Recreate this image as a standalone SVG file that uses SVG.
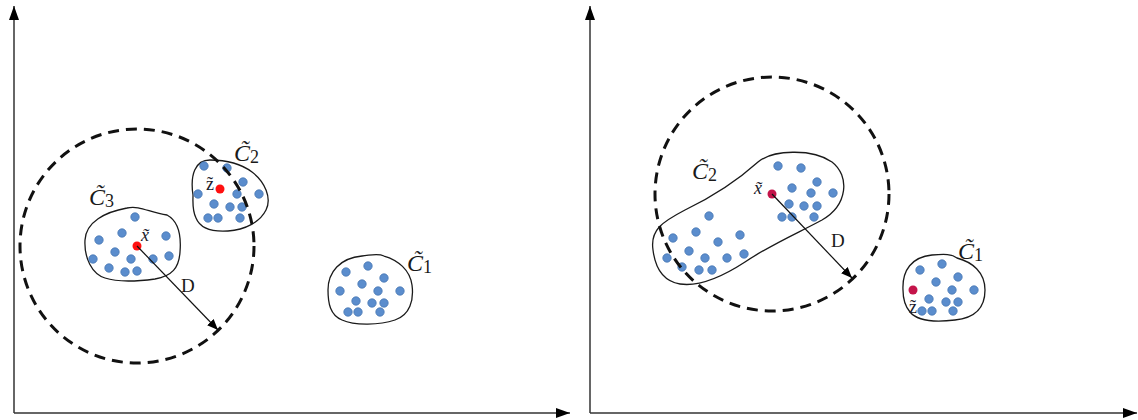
<svg xmlns="http://www.w3.org/2000/svg" width="1138" height="420" viewBox="0 0 1138 420">
  <defs>
    <style>
      .axis { stroke: #333; stroke-width: 1.5; fill: none; }
      .blob { stroke: #1a1a1a; stroke-width: 1.3; fill: none; }
      .range { stroke: #111; stroke-width: 3; fill: none; stroke-dasharray: 11 7; }
      .radius { stroke: #111; stroke-width: 1.2; fill: none; }
      .pt { fill: #5b8dcd; stroke: #4676b3; stroke-width: 0.8; }
      .ctr { fill: #ff1010; }
      .ctr2 { fill: #c4144a; }
      .lbl { font-family: "Liberation Serif", serif; fill: #1a1a1a; }
      .cname { font-style: italic; font-size: 24px; }
      .sub { font-style: normal; font-size: 18px; }
      .var { font-style: italic; font-size: 18px; fill: #1a1a2a; }
      .up { font-style: normal; }
      .dl { font-family: "Liberation Serif", serif; font-size: 19px; fill: #1a1a1a; }
    </style>
    <marker id="axhead" markerUnits="userSpaceOnUse" markerWidth="14" markerHeight="10" viewBox="0 0 14 10" refX="14" refY="5" orient="auto">
      <path d="M0,0 L14,5 L0,10 Z" fill="#000"/>
    </marker>
    <marker id="dhead" markerUnits="userSpaceOnUse" markerWidth="11" markerHeight="9" viewBox="0 0 11 9" refX="11" refY="4.5" orient="auto">
      <path d="M0,0 L11,4.5 L0,9 Z" fill="#000"/>
    </marker>
  </defs>

  <!-- coordinate axes -->
  <g id="axes">
    <line class="axis" x1="14" y1="413" x2="14" y2="6" marker-end="url(#axhead)"/>
    <line class="axis" x1="14" y1="413" x2="570" y2="413" marker-end="url(#axhead)"/>
    <line class="axis" x1="590" y1="413" x2="590" y2="6" marker-end="url(#axhead)"/>
    <line class="axis" x1="590" y1="413" x2="1137" y2="413" marker-end="url(#axhead)"/>
  </g>

  <!-- left panel: cluster C3 with centre x -->
  <g id="left-c3">
    <path class="blob" d="M85,240 C86,222 105,212 127,208 C140,205 150,213 167,215 C180,222 181,240 180,252 C179,268 172,276 155,279 C140,281 120,283 105,278 C92,274 84,258 85,240 Z"/>
    <circle class="pt" cx="135" cy="217" r="4.2"/>
    <circle class="pt" cx="99" cy="240" r="4.2"/>
    <circle class="pt" cx="122" cy="233" r="4.2"/>
    <circle class="pt" cx="166" cy="236" r="4.2"/>
    <circle class="pt" cx="115" cy="252" r="4.2"/>
    <circle class="pt" cx="93" cy="259" r="4.2"/>
    <circle class="pt" cx="131" cy="259" r="4.2"/>
    <circle class="pt" cx="153" cy="259" r="4.2"/>
    <circle class="pt" cx="169" cy="256" r="4.2"/>
    <circle class="pt" cx="109" cy="268" r="4.2"/>
    <circle class="pt" cx="125" cy="272" r="4.2"/>
    <circle class="pt" cx="137" cy="271" r="4.2"/>
    <circle class="ctr" cx="137" cy="246" r="4.5"/>
    <text class="lbl var" x="141" y="241">x&#x303;</text>
    <text class="lbl cname" x="89" y="205">C&#x303;<tspan class="sub" dy="2">3</tspan></text>
  </g>

  <!-- left panel: cluster C2 with point z -->
  <g id="left-c2">
    <path class="blob" d="M193,195 C190,175 195,160 210,160 C225,160 240,163 252,172 C265,182 272,198 266,210 C260,222 245,230 228,231 C212,232 200,228 196,218 C192,210 193,202 193,195 Z"/>
    <circle class="pt" cx="204" cy="166" r="4.2"/>
    <circle class="pt" cx="227" cy="168" r="4.2"/>
    <circle class="pt" cx="243" cy="182" r="4.2"/>
    <circle class="pt" cx="198" cy="194" r="4.2"/>
    <circle class="pt" cx="237" cy="194" r="4.2"/>
    <circle class="pt" cx="259" cy="194" r="4.2"/>
    <circle class="pt" cx="214" cy="204" r="4.2"/>
    <circle class="pt" cx="230" cy="207" r="4.2"/>
    <circle class="pt" cx="242" cy="207" r="4.2"/>
    <circle class="pt" cx="208" cy="218" r="4.2"/>
    <circle class="pt" cx="218" cy="218" r="4.2"/>
    <circle class="pt" cx="240" cy="218" r="4.2"/>
    <circle class="ctr" cx="220" cy="189" r="4.5"/>
    <text class="lbl var up" x="206" y="190">z&#x303;</text>
    <text class="lbl cname" x="234" y="161">C&#x303;<tspan class="sub" dy="2">2</tspan></text>
  </g>

  <!-- left panel: cluster C1 -->
  <g id="left-c1">
    <path class="blob" d="M328,290 C328,272 340,258 362,256 C372,255 378,253 384,256 C398,260 410,270 412,285 C414,300 410,315 395,320 C380,325 355,326 342,320 C330,315 328,303 328,290 Z"/>
    <circle class="pt" cx="346" cy="272" r="4.2"/>
    <circle class="pt" cx="368" cy="266" r="4.2"/>
    <circle class="pt" cx="384" cy="278" r="4.2"/>
    <circle class="pt" cx="362" cy="284" r="4.2"/>
    <circle class="pt" cx="340" cy="291" r="4.2"/>
    <circle class="pt" cx="378" cy="291" r="4.2"/>
    <circle class="pt" cx="400" cy="291" r="4.2"/>
    <circle class="pt" cx="356" cy="301" r="4.2"/>
    <circle class="pt" cx="372" cy="303" r="4.2"/>
    <circle class="pt" cx="384" cy="303" r="4.2"/>
    <circle class="pt" cx="348" cy="312" r="4.2"/>
    <circle class="pt" cx="358" cy="312" r="4.2"/>
    <circle class="pt" cx="380" cy="312" r="4.2"/>
    <text class="lbl cname" x="407" y="271">C&#x303;<tspan class="sub" dy="2">1</tspan></text>
  </g>

  <!-- right panel: elongated cluster C2 with centre x -->
  <g id="right-c2">
    <path class="blob" d="M653,250 C650,230 662,222 685,210 C712,197 738,180 758,162 C772,150 812,148 832,162 C850,176 848,205 822,220 C800,232 770,245 745,262 C722,277 700,287 680,284 C662,281 655,266 653,250 Z"/>
    <circle class="pt" cx="778" cy="166" r="4.2"/>
    <circle class="pt" cx="801" cy="168" r="4.2"/>
    <circle class="pt" cx="817" cy="182" r="4.2"/>
    <circle class="pt" cx="792" cy="188" r="4.2"/>
    <circle class="pt" cx="811" cy="193" r="4.2"/>
    <circle class="pt" cx="833" cy="193" r="4.2"/>
    <circle class="pt" cx="789" cy="204" r="4.2"/>
    <circle class="pt" cx="804" cy="206" r="4.2"/>
    <circle class="pt" cx="817" cy="206" r="4.2"/>
    <circle class="pt" cx="782" cy="217" r="4.2"/>
    <circle class="pt" cx="792" cy="217" r="4.2"/>
    <circle class="pt" cx="814" cy="217" r="4.2"/>
    <circle class="pt" cx="709" cy="216" r="4.2"/>
    <circle class="pt" cx="696" cy="232" r="4.2"/>
    <circle class="pt" cx="740" cy="235" r="4.2"/>
    <circle class="pt" cx="673" cy="238" r="4.2"/>
    <circle class="pt" cx="718" cy="242" r="4.2"/>
    <circle class="pt" cx="689" cy="251" r="4.2"/>
    <circle class="pt" cx="744" cy="254" r="4.2"/>
    <circle class="pt" cx="667" cy="258" r="4.2"/>
    <circle class="pt" cx="705" cy="258" r="4.2"/>
    <circle class="pt" cx="727" cy="258" r="4.2"/>
    <circle class="pt" cx="682" cy="267" r="4.2"/>
    <circle class="pt" cx="699" cy="270" r="4.2"/>
    <circle class="pt" cx="712" cy="270" r="4.2"/>
    <circle class="ctr2" cx="772" cy="194" r="4.5"/>
    <text class="lbl var" x="754" y="194">x&#x303;</text>
    <text class="lbl cname" x="692" y="179">C&#x303;<tspan class="sub" dy="2">2</tspan></text>
  </g>

  <!-- right panel: cluster C1 containing z -->
  <g id="right-c1">
    <path class="blob" d="M903,290 C902,270 912,257 932,255 C945,254 952,254 957,258 C972,262 985,272 985,290 C985,308 975,318 955,320 C938,322 918,322 910,312 C904,305 903,298 903,290 Z"/>
    <circle class="pt" cx="920" cy="270" r="4.2"/>
    <circle class="pt" cx="942" cy="264" r="4.2"/>
    <circle class="pt" cx="958" cy="277" r="4.2"/>
    <circle class="pt" cx="936" cy="282" r="4.2"/>
    <circle class="pt" cx="952" cy="290" r="4.2"/>
    <circle class="pt" cx="974" cy="290" r="4.2"/>
    <circle class="pt" cx="929" cy="299" r="4.2"/>
    <circle class="pt" cx="946" cy="302" r="4.2"/>
    <circle class="pt" cx="958" cy="302" r="4.2"/>
    <circle class="pt" cx="922" cy="311" r="4.2"/>
    <circle class="pt" cx="932" cy="311" r="4.2"/>
    <circle class="pt" cx="953" cy="311" r="4.2"/>
    <circle class="ctr2" cx="913" cy="290" r="4.5"/>
    <text class="lbl var up" x="909" y="313">z&#x303;</text>
    <text class="lbl cname" x="958" y="259">C&#x303;<tspan class="sub" dy="2">1</tspan></text>
  </g>

  <!-- search ranges and radius D -->
  <g id="connectors">
    <circle class="range" cx="137" cy="246" r="117"/>
    <line class="radius" x1="137" y1="246" x2="218" y2="330" marker-end="url(#dhead)"/>
    <circle class="range" cx="772" cy="194" r="117"/>
    <line class="radius" x1="772" y1="194" x2="852" y2="278" marker-end="url(#dhead)"/>
  </g>
  <g id="labels-d">
    <text class="dl" x="181" y="292">D</text>
    <text class="dl" x="831" y="247">D</text>
  </g>
</svg>
